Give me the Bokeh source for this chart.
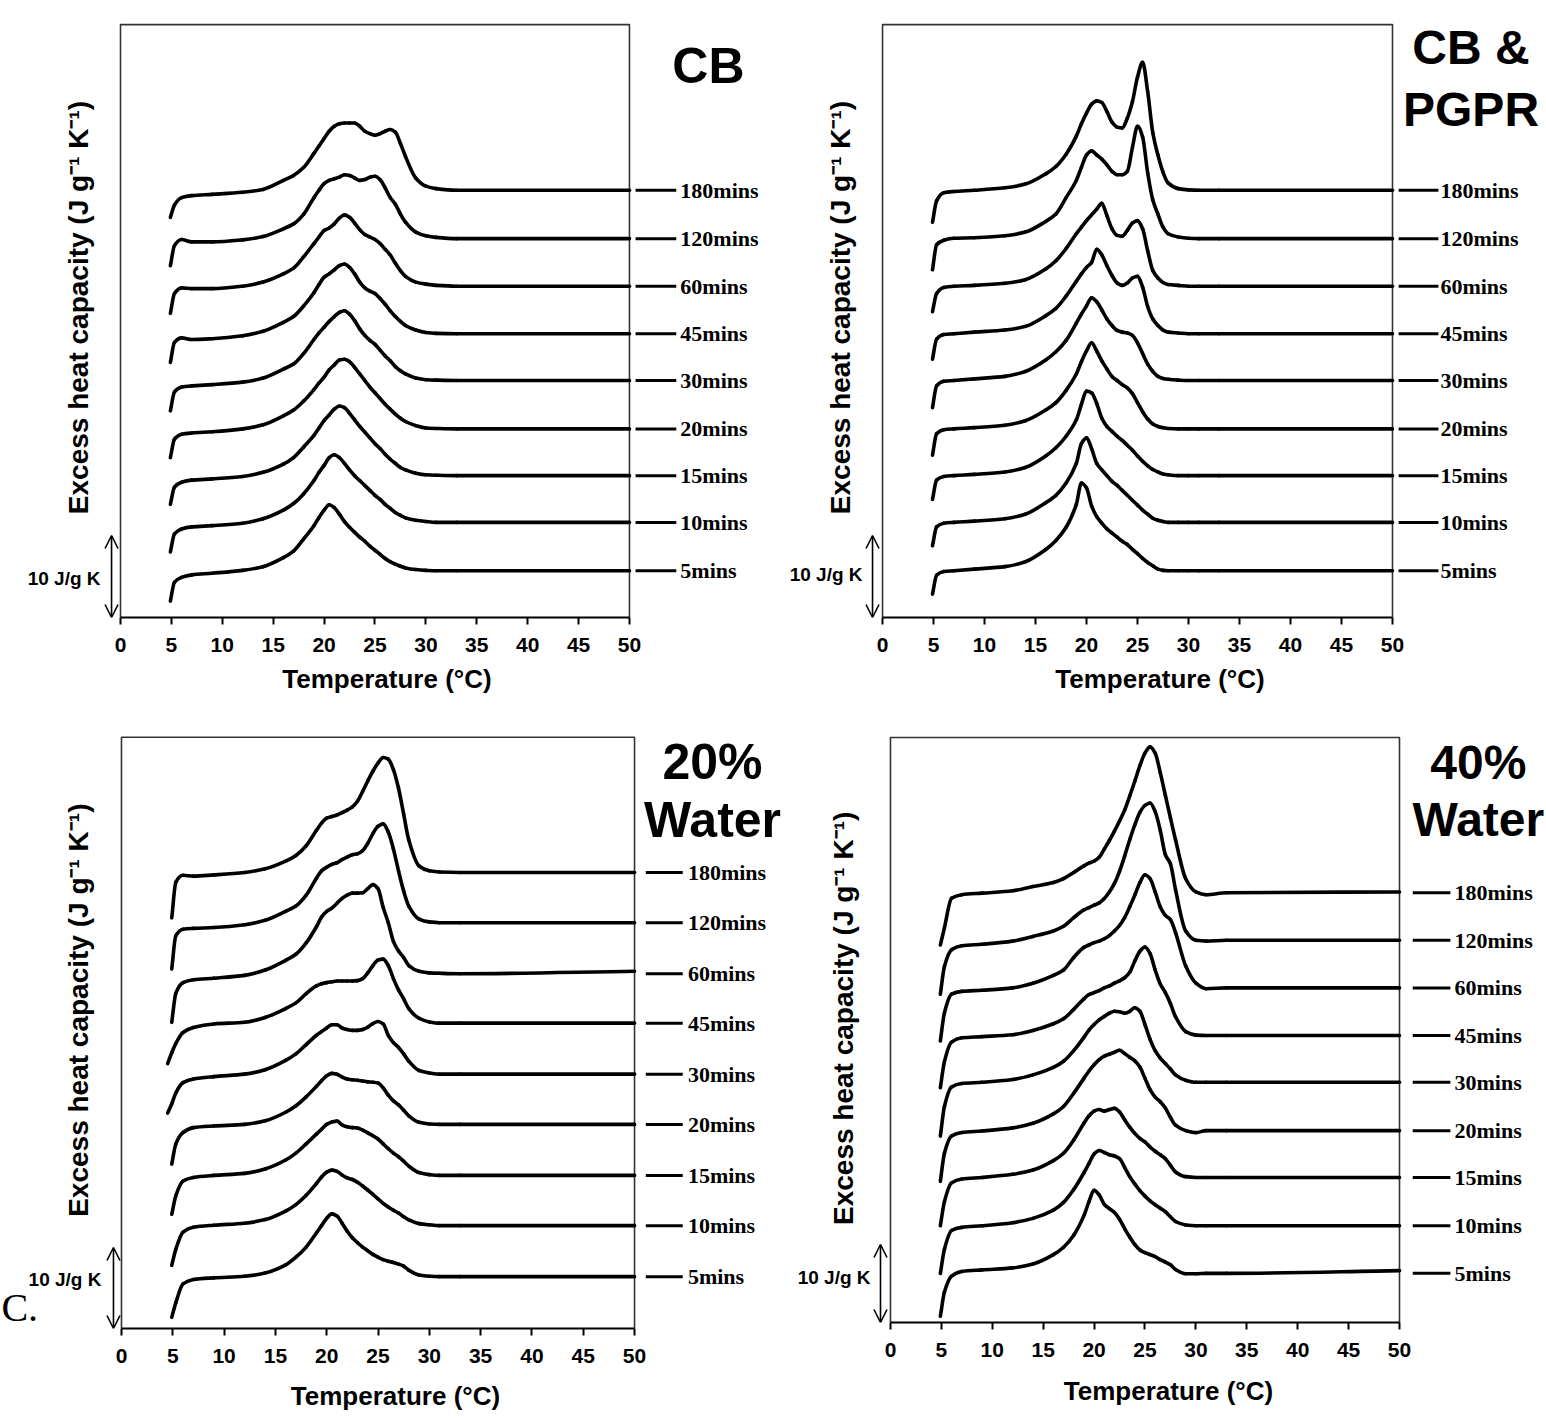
import numpy as np
from math import pi
from bokeh.plotting import figure
from bokeh.layouts import column, row
from bokeh.models import Range1d, FixedTicker, Arrow, OpenHead, ColumnDataSource
from bokeh.core.properties import value
from bokeh.embed import file_html
from bokeh.resources import INLINE

nan = float("nan")

# ---------------- data ----------------
time_labels = ["180mins", "120mins", "60mins", "45mins", "30mins", "20mins", "15mins", "10mins", "5mins"]
x_ticks = [0, 5, 10, 15, 20, 25, 30, 35, 40, 45, 50]

# temperature grid (°C)
temps = [4.9, 5.3, 6, 7, 9, 12, 14, 16, 17, 18, 19, 19.5, 20, 20.5, 21, 21.5, 22, 22.5, 23, 23.5,
         24, 24.5, 25, 25.5, 26, 26.5, 27, 27.5, 28, 29, 30, 31, 33, 50]
temps_w20 = [4.5] + temps

# excess heat capacity relative to each trace's own baseline (J g-1 K-1)
# --- CB ---
cb_180 = [-3.3, -1.8, -0.9, -0.65, -0.5, -0.25, 0.1, 1.2, 1.8, 2.8, 4.5, 5.4, 6.3, 7.2, 7.8, 8.1, 8.2, 8.2, 8.2, 7.8, 7.2, 6.9, 6.7, 6.9, 7.2, 7.4, 7.1, 5.7, 4.1, 1.5, 0.5, 0.2, 0, 0]
cb_120 = [-3.3, -0.85, -0.1, -0.4, -0.4, -0.15, 0.25, 1.2, 1.8, 3.0, 5.0, 5.9, 6.7, 7.1, 7.3, 7.5, 7.8, 7.7, 7.4, 7.1, 7.2, 7.5, 7.6, 7.2, 6.2, 5.0, 4.2, 3.0, 2.0, 0.8, 0.35, 0.15, 0, 0]
cb_60 = [-3.3, -0.9, -0.2, -0.3, -0.3, 0, 0.5, 1.5, 2.2, 3.6, 5.2, 6.0, 6.8, 7.1, 7.6, 8.3, 8.7, 8.4, 7.7, 6.9, 6.3, 6.0, 5.7, 5.2, 4.5, 3.8, 2.8, 1.9, 1.2, 0.5, 0.25, 0.1, 0, 0]
cb_45 = [-3.5, -1.05, -0.5, -0.7, -0.6, -0.25, 0.3, 1.4, 2.1, 3.4, 5.0, 6.0, 6.9, 7.3, 7.8, 8.3, 8.5, 8.1, 7.3, 6.3, 5.6, 5.2, 4.9, 4.3, 3.6, 2.8, 2.1, 1.5, 1.0, 0.45, 0.15, 0.05, 0, 0]
cb_30 = [-3.7, -1.4, -0.8, -0.65, -0.5, -0.2, 0.3, 1.4, 2.0, 3.3, 5.0, 5.8, 6.5, 7.2, 7.8, 8.3, 8.5, 8.1, 7.3, 6.3, 5.5, 4.9, 4.4, 3.7, 3.0, 2.4, 1.7, 1.2, 0.8, 0.3, 0.1, 0.05, 0, 0]
cb_20 = [-3.5, -1.25, -0.65, -0.5, -0.35, 0, 0.5, 1.6, 2.3, 3.4, 4.8, 5.6, 6.3, 7.2, 7.8, 8.4, 8.5, 8.2, 7.5, 6.7, 5.9, 5.1, 4.4, 3.7, 3.0, 2.4, 1.8, 1.3, 0.9, 0.4, 0.1, 0.05, 0, 0]
cb_15 = [-3.5, -1.4, -0.8, -0.55, -0.4, -0.1, 0.4, 1.4, 2.2, 3.5, 4.9, 5.8, 6.7, 7.4, 8.1, 8.5, 8.3, 7.6, 6.8, 6.0, 5.3, 4.6, 3.9, 3.3, 2.6, 2.0, 1.5, 1.0, 0.7, 0.3, 0.1, 0.05, 0, 0]
cb_10 = [-3.6, -1.4, -0.8, -0.55, -0.4, -0.1, 0.45, 1.5, 2.3, 3.5, 5.1, 6.1, 6.95, 7.9, 8.25, 7.9, 7.2, 6.4, 5.7, 5.1, 4.5, 3.9, 3.3, 2.8, 2.2, 1.7, 1.2, 0.85, 0.55, 0.25, 0.1, 0, 0, 0]
cb_5 = [-3.7, -1.4, -0.8, -0.5, -0.3, 0.05, 0.5, 1.6, 2.4, 3.9, 5.5, 6.5, 7.4, 8.05, 7.7, 6.9, 6.0, 5.3, 4.7, 4.1, 3.6, 3.0, 2.5, 2.0, 1.5, 1.1, 0.8, 0.55, 0.35, 0.15, 0.05, 0, 0, 0]

# --- CB & PGPR ---
pg_180 = [-3.9, -1.3, -0.3, -0.15, 0, 0.3, 0.75, 2.0, 2.9, 4.4, 6.6, 8.1, 9.4, 10.5, 10.9, 10.7, 9.6, 8.3, 7.7, 7.6, 8.8, 10.8, 13.8, 15.6, 12.0, 7.0, 4.3, 2.2, 0.9, 0.2, 0.05, 0, 0, 0]
pg_120 = [-3.8, -0.75, -0.2, 0.05, 0.1, 0.35, 0.8, 2.1, 3.0, 5.0, 7.1, 8.7, 10.2, 10.7, 10.2, 9.7, 9.0, 8.2, 7.8, 7.8, 8.2, 11.1, 13.7, 12.4, 8.0, 4.7, 3.0, 1.4, 0.6, 0.2, 0.05, 0, 0, 0]
pg_60 = [-3.1, -0.9, -0.15, 0, 0.1, 0.35, 0.8, 2.1, 3.1, 4.6, 6.4, 7.2, 8.0, 8.7, 9.4, 10.1, 8.6, 7.0, 6.2, 6.1, 6.8, 7.7, 8.0, 7.0, 4.3, 1.9, 1.0, 0.45, 0.2, 0.1, 0, 0, 0, 0]
pg_45 = [-3.1, -0.65, -0.1, 0, 0.2, 0.45, 0.9, 2.2, 3.1, 4.6, 6.4, 7.3, 8.1, 8.7, 10.3, 9.6, 8.3, 7.1, 6.2, 5.9, 6.2, 6.8, 7.0, 5.7, 3.3, 1.8, 1.0, 0.45, 0.2, 0.1, 0, 0, 0, 0]
pg_30 = [-3.3, -0.65, -0.1, 0, 0.2, 0.5, 1.1, 2.5, 3.5, 4.9, 7.0, 8.1, 9.1, 10.1, 9.6, 8.6, 7.5, 6.7, 6.1, 5.9, 5.8, 5.5, 4.6, 3.3, 2.0, 1.1, 0.5, 0.25, 0.15, 0.05, 0, 0, 0, 0]
pg_20 = [-3.2, -0.6, -0.1, 0, 0.15, 0.45, 1.0, 2.3, 3.2, 4.7, 6.7, 8.2, 9.5, 10.5, 9.5, 8.3, 7.3, 6.4, 5.9, 5.4, 5.0, 4.3, 3.2, 2.1, 1.2, 0.6, 0.3, 0.15, 0.05, 0, 0, 0, 0, 0]
pg_15 = [-2.9, -0.55, -0.1, 0, 0.15, 0.45, 1.0, 2.4, 3.4, 4.8, 6.8, 8.7, 10.3, 10.1, 8.8, 7.0, 6.0, 5.4, 4.8, 4.3, 3.7, 3.1, 2.4, 1.75, 1.2, 0.75, 0.45, 0.2, 0.1, 0, 0, 0, 0, 0]
pg_10 = [-2.85, -0.55, -0.1, 0, 0.15, 0.45, 1.0, 2.4, 3.3, 4.8, 7.2, 9.6, 10.3, 9.0, 7.2, 6.4, 5.7, 5.0, 4.5, 3.9, 3.3, 2.7, 2.1, 1.5, 1.0, 0.5, 0.25, 0.1, 0, 0, 0, 0, 0, 0]
pg_5 = [-2.85, -0.55, -0.1, 0, 0.2, 0.5, 1.1, 2.6, 3.7, 5.3, 8.1, 10.7, 10.1, 7.9, 6.6, 5.8, 5.1, 4.6, 4.1, 3.6, 3.2, 2.6, 2.1, 1.5, 1.0, 0.6, 0.2, 0.05, 0, 0, 0, 0, 0, 0]

# --- 20% Water (grid temps_w20) ---
w20_180 = [nan, -5.6, -1.2, -0.35, -0.45, -0.3, 0, 0.45, 1.4, 2.1, 3.3, 5.2, 6.1, 6.7, 6.9, 7.1, 7.4, 7.7, 8.1, 8.8, 10.0, 11.3, 12.5, 13.5, 14.2, 14.0, 12.7, 10.4, 7.2, 4.0, 0.8, 0.2, 0.05, 0, 0]
w20_120 = [nan, -5.7, -1.6, -0.8, -0.7, -0.6, -0.25, 0.3, 1.4, 2.05, 3.4, 5.5, 6.4, 6.85, 7.2, 7.4, 7.8, 8.1, 8.4, 8.5, 8.9, 9.8, 11.0, 11.9, 12.2, 11.2, 9.1, 6.4, 3.9, 2.05, 0.45, 0.1, 0, 0, 0]
w20_60 = [nan, -6.0, -2.4, -1.1, -0.75, -0.55, -0.2, 0.45, 1.65, 2.4, 3.8, 5.8, 7.0, 7.7, 8.1, 8.7, 9.3, 9.7, 9.95, 9.95, 10.0, 10.5, 11.0, 10.5, 8.2, 6.3, 4.0, 2.8, 2.0, 1.0, 0.3, 0.1, 0.05, 0, 0.3]
w20_45 = [-5.0, -3.65, -2.5, -1.15, -0.55, -0.1, 0.1, 0.7, 1.8, 2.5, 3.65, 4.6, 4.85, 5.0, 5.1, 5.2, 5.2, 5.2, 5.2, 5.25, 5.5, 6.2, 7.1, 7.8, 7.9, 7.1, 5.5, 4.1, 3.0, 1.8, 0.6, 0.15, 0, 0, 0]
w20_30 = [-4.8, -3.65, -2.3, -1.05, -0.6, -0.3, 0, 0.55, 1.7, 2.5, 3.65, 4.8, 5.25, 5.7, 6.1, 6.1, 5.7, 5.5, 5.4, 5.4, 5.5, 5.8, 6.25, 6.5, 6.2, 4.8, 3.9, 3.3, 2.5, 1.6, 0.45, 0.15, 0, 0, 0]
w20_20 = [nan, -4.9, -2.4, -1.0, -0.4, -0.2, 0, 0.45, 1.5, 2.3, 3.4, 4.7, 5.4, 6.0, 6.3, 6.2, 5.85, 5.6, 5.5, 5.45, 5.35, 5.25, 5.2, 5.1, 4.5, 3.6, 2.9, 2.4, 1.75, 1.05, 0.25, 0.05, 0, 0, 0]
w20_15 = [nan, -4.8, -2.5, -0.7, -0.25, 0, 0.25, 0.8, 1.9, 2.75, 3.9, 5.1, 5.7, 6.3, 6.6, 6.7, 6.25, 6.0, 5.9, 5.85, 5.6, 5.25, 4.9, 4.5, 3.9, 3.3, 2.75, 2.3, 1.75, 1.15, 0.35, 0.1, 0, 0, 0]
w20_10 = [nan, -4.9, -2.9, -0.8, -0.2, 0.05, 0.3, 0.75, 1.8, 2.6, 3.75, 5.2, 6.0, 6.6, 6.85, 6.7, 6.25, 5.9, 5.7, 5.35, 4.9, 4.4, 3.85, 3.3, 2.75, 2.3, 1.9, 1.55, 1.1, 0.7, 0.25, 0.1, 0, 0, 0]
w20_5 = [nan, -5.0, -3.2, -0.9, -0.35, -0.15, 0.05, 0.45, 1.45, 2.4, 3.65, 5.4, 6.3, 7.2, 7.75, 7.5, 6.6, 5.6, 4.8, 4.2, 3.65, 3.2, 2.75, 2.4, 2.1, 1.9, 1.75, 1.55, 1.3, 0.8, 0.2, 0.05, 0, 0, 0]

# --- 40% Water ---
w40_180 = [-6.7, -4.5, -0.7, -0.25, -0.05, 0.25, 0.8, 1.3, 1.8, 2.6, 3.45, 3.8, 4.05, 4.55, 5.6, 6.7, 7.9, 9.2, 10.6, 12.4, 14.3, 16.3, 17.9, 18.7, 17.9, 15.4, 12.5, 9.6, 6.8, 1.8, 0.1, -0.25, 0, 0.1]
w40_120 = [-6.9, -3.35, -1.2, -0.7, -0.5, -0.1, 0.5, 1.2, 1.8, 2.9, 3.9, 4.2, 4.5, 4.8, 5.35, 6.2, 7.3, 8.85, 10.8, 12.9, 14.8, 16.4, 17.3, 17.6, 16.5, 14.1, 11.0, 9.8, 6.5, 1.2, 0, -0.1, 0, 0]
w40_60 = [-6.8, -3.2, -0.8, -0.45, -0.3, 0, 0.6, 1.6, 2.3, 3.9, 5.2, 5.5, 5.8, 6.0, 6.3, 6.7, 7.3, 8.0, 9.0, 10.4, 11.9, 13.5, 14.5, 14.0, 12.3, 10.4, 9.3, 8.75, 7.1, 2.8, 0.6, -0.1, 0, 0]
w40_45 = [-6.7, -3.35, -0.85, -0.3, -0.15, 0.1, 0.65, 1.5, 2.15, 3.35, 4.7, 5.25, 5.5, 5.75, 6.1, 6.35, 6.7, 7.0, 7.4, 8.1, 9.55, 10.8, 11.35, 10.5, 8.4, 6.6, 5.5, 4.1, 2.4, 0.5, 0.05, 0, 0, 0]
w40_30 = [-6.9, -3.1, -0.6, -0.15, 0, 0.35, 0.95, 1.9, 2.7, 4.05, 5.75, 6.7, 7.4, 8.0, 8.45, 8.85, 9.1, 9.05, 8.85, 9.1, 9.55, 9.1, 7.4, 5.5, 4.05, 3.1, 2.4, 1.7, 0.95, 0.25, 0, 0, 0, 0]
w40_20 = [-6.5, -2.9, -0.7, -0.25, -0.05, 0.35, 0.95, 2.15, 3.1, 4.8, 6.7, 7.65, 8.45, 9.1, 9.55, 9.8, 10.05, 10.3, 9.9, 9.4, 8.95, 8.15, 6.7, 5.25, 4.3, 3.7, 2.9, 1.7, 0.7, 0, -0.25, 0, 0, 0]
w40_15 = [-6.2, -3.1, -0.7, -0.2, 0, 0.4, 0.95, 2.15, 3.1, 4.8, 6.95, 7.9, 8.5, 8.7, 8.5, 8.7, 8.85, 8.4, 7.4, 6.45, 5.65, 5.0, 4.55, 3.9, 3.35, 2.9, 2.4, 1.55, 0.7, 0.1, 0, 0, 0, 0]
w40_10 = [-6.1, -3.0, -0.6, -0.2, 0, 0.4, 0.95, 2.0, 3.0, 4.65, 6.8, 8.0, 9.2, 9.65, 9.4, 9.1, 8.95, 8.6, 7.5, 6.3, 5.35, 4.5, 3.8, 3.2, 2.7, 2.25, 1.8, 1.15, 0.55, 0.1, 0, 0, 0, 0]
w40_5 = [-5.5, -2.4, -0.35, 0.25, 0.45, 0.7, 1.2, 2.4, 3.35, 4.9, 7.4, 9.2, 10.65, 10.05, 8.85, 8.3, 7.8, 6.95, 5.75, 4.65, 3.7, 3.0, 2.65, 2.4, 2.15, 1.75, 1.45, 1.1, 0.5, -0.05, -0.05, 0, 0, 0.35]

# vertical offsets of each trace (J g-1 K-1), order = time_labels
offsets_cb = [52.1, 46.2, 40.4, 34.6, 28.9, 23.0, 17.3, 11.6, 5.7]
offsets_pg = [52.1, 46.2, 40.4, 34.6, 28.9, 23.0, 17.3, 11.6, 5.7]
offsets_w20 = [56.3, 50.1, 43.8, 37.7, 31.4, 25.2, 18.9, 12.7, 6.4]
offsets_w40 = [55.1, 49.0, 42.9, 36.8, 30.8, 24.6, 18.6, 12.4, 6.3]

series_cb = [cb_180, cb_120, cb_60, cb_45, cb_30, cb_20, cb_15, cb_10, cb_5]
series_pg = [pg_180, pg_120, pg_60, pg_45, pg_30, pg_20, pg_15, pg_10, pg_5]
series_w20 = [w20_180, w20_120, w20_60, w20_45, w20_30, w20_20, w20_15, w20_10, w20_5]
series_w40 = [w40_180, w40_120, w40_60, w40_45, w40_30, w40_20, w40_15, w40_10, w40_5]

SANS = "Liberation Sans"
SERIF = "Liberation Serif"


def smooth_segments(xs, ys):
    """Cubic (monotone Hermite) Bezier pieces passing through every data point."""
    x = np.asarray(xs, dtype=float)
    y = np.asarray(ys, dtype=float)
    ok = ~np.isnan(y)
    x, y = x[ok], y[ok]
    h = np.diff(x)
    d = np.diff(y) / h
    n = len(x)
    m = np.zeros(n)
    m[0], m[-1] = d[0], d[-1]
    for i in range(1, n - 1):
        if d[i - 1] * d[i] <= 0:
            m[i] = 0.0
        else:
            w1 = 2 * h[i] + h[i - 1]
            w2 = h[i] + 2 * h[i - 1]
            m[i] = (w1 + w2) / (w1 / d[i - 1] + w2 / d[i])
    return dict(x0=x[:-1], y0=y[:-1], x1=x[1:], y1=y[1:],
                cx0=x[:-1] + h / 3, cy0=y[:-1] + m[:-1] * h / 3,
                cx1=x[1:] - h / 3, cy1=y[1:] - m[1:] * h / 3)


def panel(fw, fh, xr, yr, border_bottom, temp_grid, series, offsets, box_top,
          seg, label_x, titles, title_x, title_size, ylab_xy, scale_xy, arrow_x,
          tick_standoff, label_standoff):
    p = figure(frame_width=fw, frame_height=fh, x_range=Range1d(*xr), y_range=Range1d(*yr),
               output_backend="svg", toolbar_location=None, tools="", title=None,
               y_axis_location=None, min_border_left=0, min_border_right=0,
               min_border_top=0, min_border_bottom=border_bottom)
    p.outline_line_color = None
    p.xgrid.visible = False
    p.ygrid.visible = False
    p.background_fill_color = "white"
    p.border_fill_color = "white"

    ax = p.xaxis[0]
    ax.bounds = (0, 50)
    ax.ticker = FixedTicker(ticks=x_ticks)
    ax.minor_tick_line_color = None
    ax.axis_line_width = 2
    ax.axis_line_color = "black"
    ax.major_tick_line_width = 2
    ax.major_tick_line_color = "black"
    ax.major_tick_out = 7
    ax.major_tick_in = 0
    ax.major_label_text_font = SANS
    ax.major_label_text_font_style = "bold"
    ax.major_label_text_font_size = "21px"
    ax.major_label_text_color = "black"
    ax.major_label_standoff = tick_standoff
    ax.axis_label = "Temperature (°C)"
    ax.axis_label_text_font = SANS
    ax.axis_label_text_font_style = "bold"
    ax.axis_label_text_font_size = "26px"
    ax.axis_label_text_color = "black"
    ax.axis_label_standoff = label_standoff

    # frame box (left, top, right)
    p.line([0, 0, 50, 50], [0, box_top, box_top, 0], line_color="#333333", line_width=1.6)

    for vals, off in zip(series, offsets):
        y = np.array(vals, dtype=float) + off
        src = ColumnDataSource(smooth_segments(temp_grid, y))
        p.bezier(x0="x0", y0="y0", x1="x1", y1="y1", cx0="cx0", cy0="cy0", cx1="cx1", cy1="cy1",
                 source=src, line_color="black", line_width=3.6, line_cap="round")

    n = len(offsets)
    p.segment(x0=[seg[0]] * n, y0=offsets, x1=[seg[1]] * n, y1=offsets, line_color="black", line_width=3)
    p.text(x=[label_x] * n, y=offsets, text=time_labels, text_font=value(SERIF), text_font_style="bold",
           text_font_size="22px", text_baseline="middle", text_align="left", text_color="black")

    for txt, ty in titles:
        p.text(x=[title_x], y=[ty], text=[txt], text_font=value(SANS), text_font_style="bold",
               text_font_size=title_size, text_baseline="middle", text_align="center", text_color="black")

    p.text(x=[ylab_xy[0]], y=[ylab_xy[1]], text=["Excess heat capacity (J g\u207b\u00b9 K\u207b\u00b9)"],
           angle=pi / 2, text_font=value(SANS), text_font_style="bold", text_font_size="28px",
           text_baseline="middle", text_align="center", text_color="black")

    p.text(x=[scale_xy[0]], y=[scale_xy[1]], text=["10 J/g K"], text_font=value(SANS),
           text_font_style="bold", text_font_size="19px", text_baseline="middle", text_align="right",
           text_color="black")
    p.add_layout(Arrow(x_start=arrow_x, y_start=0.0, x_end=arrow_x, y_end=10.0,
                       line_width=1.6, line_color="black",
                       start=OpenHead(size=13, line_width=1.6, line_color="black"),
                       end=OpenHead(size=13, line_width=1.6, line_color="black")))
    return p


p1 = panel(773, 617, (-11.79, 64.15), (0, 75.24), 95, temps, series_cb, offsets_cb, 72.3,
           (50.6, 54.6), 55.0, [("CB", 67.3)], 57.76, "50px", (-4.13, 37.8), (-1.96, 4.75), -0.88, 13, 9)

p2 = panel(773, 617, (-10.69, 65.10), (0, 75.24), 95, temps, series_pg, offsets_pg, 72.3,
           (50.6, 54.5), 54.7, [("CB &", 69.5), ("PGPR", 61.9)], 57.7, "48px", (-4.12, 37.8), (-1.96, 5.24), -0.98, 13, 9)

p3 = panel(790, 616, (-11.79, 65.20), (0, 76.05), 94, temps_w20, series_w20, offsets_w20, 73.0,
           (51.1, 54.7), 55.2, [("20%", 69.9), ("Water", 62.8)], 57.6, "50px", (-4.19, 39.3), (-1.95, 6.05), -0.78, 13, 15)
p3.text(x=[-11.7], y=[-0.2], text=["C."], text_font=value(SERIF), text_font_size="40px",
        text_baseline="bottom", text_align="left", text_color="black")

p4 = panel(756, 610, (-9.82, 64.44), (0, 78.21), 100, temps, series_w40, offsets_w40, 75.0,
           (51.3, 55.0), 55.4, [("40%", 71.8), ("Water", 64.5)], 57.75, "48px", (-4.62, 39.0), (-1.96, 5.8), -0.98, 13, 16)

layout = column(row(p1, p2), row(p3, p4))
open("out.html", "w").write(file_html(layout, INLINE))
